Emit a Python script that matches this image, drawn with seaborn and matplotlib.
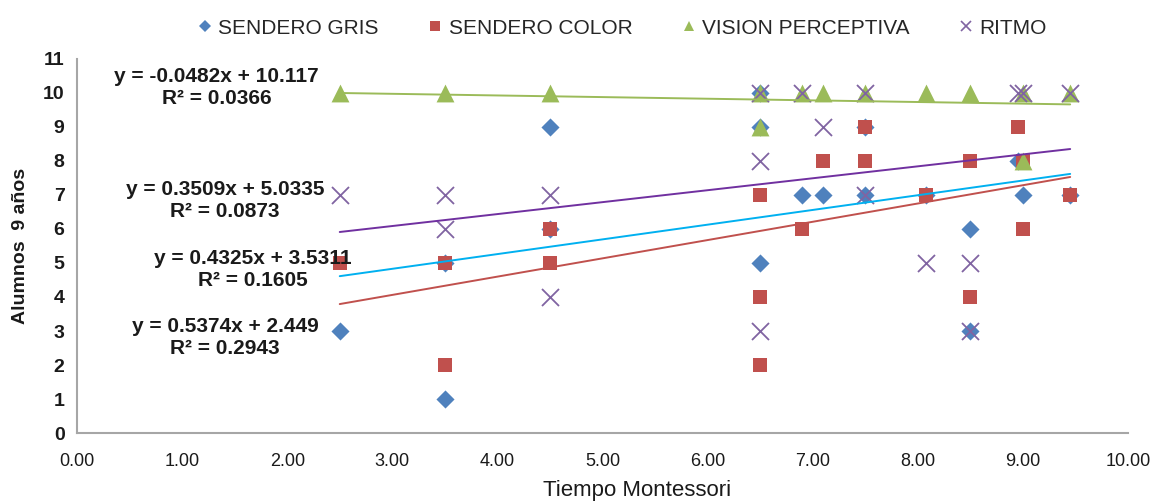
import matplotlib
matplotlib.use("Agg")
import matplotlib.pyplot as plt
from matplotlib.lines import Line2D
import numpy as np
import pandas as pd
import seaborn as sns

# --- data -----------------------------------------------------------------
series_names = ["SENDERO GRIS", "SENDERO COLOR", "VISION PERCEPTIVA", "RITMO"]

x_gris = [2.5, 3.5, 3.5, 4.5, 4.5, 6.5, 6.5, 6.5, 6.9, 7.1, 7.5, 7.5, 8.08, 8.5, 8.5, 8.95, 9.0, 9.45]
y_gris = [3, 5, 1, 9, 6, 10, 9, 5, 7, 7, 9, 7, 7, 6, 3, 8, 7, 7]

x_color = [2.5, 3.5, 3.5, 4.5, 4.5, 6.5, 6.5, 6.5, 6.9, 7.1, 7.5, 7.5, 8.08, 8.5, 8.5, 8.95, 9.0, 9.0, 9.45]
y_color = [5, 5, 2, 6, 5, 7, 4, 2, 6, 8, 9, 8, 7, 8, 4, 9, 8, 6, 7]

x_vision = [2.5, 3.5, 4.5, 6.5, 6.5, 6.9, 7.1, 7.5, 8.08, 8.5, 9.0, 9.0, 9.45]
y_vision = [10, 10, 10, 10, 9, 10, 10, 10, 10, 10, 10, 8, 10]

x_ritmo = [2.5, 3.5, 3.5, 4.5, 4.5, 6.5, 6.5, 6.5, 6.9, 7.1, 7.5, 7.5, 8.08, 8.5, 8.5, 8.95, 9.0, 9.45]
y_ritmo = [7, 7, 6, 7, 4, 10, 8, 3, 10, 9, 10, 7, 5, 5, 3, 10, 10, 10]

# linear trendlines (slope, intercept, R²) for each series
trend_slope = [0.4325, 0.5374, -0.0482, 0.3509]
trend_intercept = [3.5311, 2.449, 10.117, 5.0335]
trend_r2 = [0.1605, 0.2943, 0.0366, 0.0873]

x_ticks = [0, 1, 2, 3, 4, 5, 6, 7, 8, 9, 10]
y_ticks = list(range(0, 12))

# --- styling --------------------------------------------------------------
marker_colors = ["#4F81BD", "#C0504D", "#9BBB59", "#8064A2"]
line_colors = ["#00B0F0", "#C0504D", "#9BBB59", "#7030A0"]
markers = ["D", "s", "^", "x"]
marker_sizes = [85, 115, 165, 150]

# equation label anchors (data coordinates, centre of the two-line block)
eq_pos = [(1.67, 4.82), (1.41, 2.81), (1.33, 10.16), (1.41, 6.85)]

sns.set_theme(style="white")
plt.rcParams["font.family"] = ["Liberation Sans", "DejaVu Sans"]

frames = []
for name, xs, ys in zip(series_names,
                        [x_gris, x_color, x_vision, x_ritmo],
                        [y_gris, y_color, y_vision, y_ritmo]):
    frames.append(pd.DataFrame({"tiempo": xs, "alumnos": ys, "serie": name}))

fig = plt.figure(figsize=(11.51, 5.03), dpi=100)
ax = fig.add_axes([0.0669, 0.139, 0.9131, 0.744])

for i, df in enumerate(frames):
    kw = dict(data=df, x="tiempo", y="alumnos", ax=ax, marker=markers[i],
              s=marker_sizes[i], color=marker_colors[i], legend=False, zorder=3 + i)
    kw.update(linewidth=1.3 if markers[i] == "x" else 0)
    sns.scatterplot(**kw)

# trendlines drawn from the stated coefficients over each series' x-range
for i, df in enumerate(frames):
    xr = np.array([df["tiempo"].min(), df["tiempo"].max()])
    yr = trend_slope[i] * xr + trend_intercept[i]
    sns.lineplot(x=xr, y=yr, ax=ax, color=line_colors[i], linewidth=1.4,
                 zorder=8, legend=False)

for i in range(4):
    eq = f"y = {trend_slope[i]}x + {trend_intercept[i]}"
    r2 = f"R² = {trend_r2[i]}"
    px, py = eq_pos[i]
    ax.text(px, py, eq + "\n" + r2, ha="center", va="center", fontsize=15,
            fontweight="bold", color="#1a1a1a", linespacing=1.2, zorder=10)

ax.set_xlim(0, 10)
ax.set_ylim(0, 11)
ax.set_xticks(x_ticks)
ax.set_xticklabels([f"{v:.2f}" for v in x_ticks], fontsize=13)
ax.set_yticks(y_ticks)
ax.set_yticklabels([str(v) for v in y_ticks], fontweight="bold", fontsize=14)

for side in ["top", "right"]:
    ax.spines[side].set_visible(False)
for side in ["left", "bottom"]:
    ax.spines[side].set_color("#A6A6A6")
    ax.spines[side].set_linewidth(1.5)
ax.tick_params(axis="both", direction="out", length=5, width=1.2, color="#A6A6A6",
               pad=4, labelcolor="#1a1a1a")
ax.tick_params(axis="x", pad=9)
ax.grid(False)

ax.set_xlabel("")
ax.set_ylabel("Alumnos  9 años", fontweight="bold", fontsize=14, color="#1a1a1a",
              labelpad=10)
fig.text(637 / 1151, 0.004, "Tiempo Montessori", ha="center", va="bottom",
         fontsize=16, color="#1a1a1a")

handles = []
for i, name in enumerate(series_names):
    handles.append(Line2D([], [], linestyle="none", marker=markers[i],
                          color=marker_colors[i], markersize=[6, 7, 7, 7][i],
                          markeredgewidth=1.2 if markers[i] == "x" else 0))
fig.legend(handles, series_names, loc="upper center", bbox_to_anchor=(0.54, 1.0),
           ncol=4, frameon=False, handletextpad=0.25, columnspacing=2.3,
           handlelength=0.8, prop={"size": 15})

fig.savefig("out.png", dpi=100)
